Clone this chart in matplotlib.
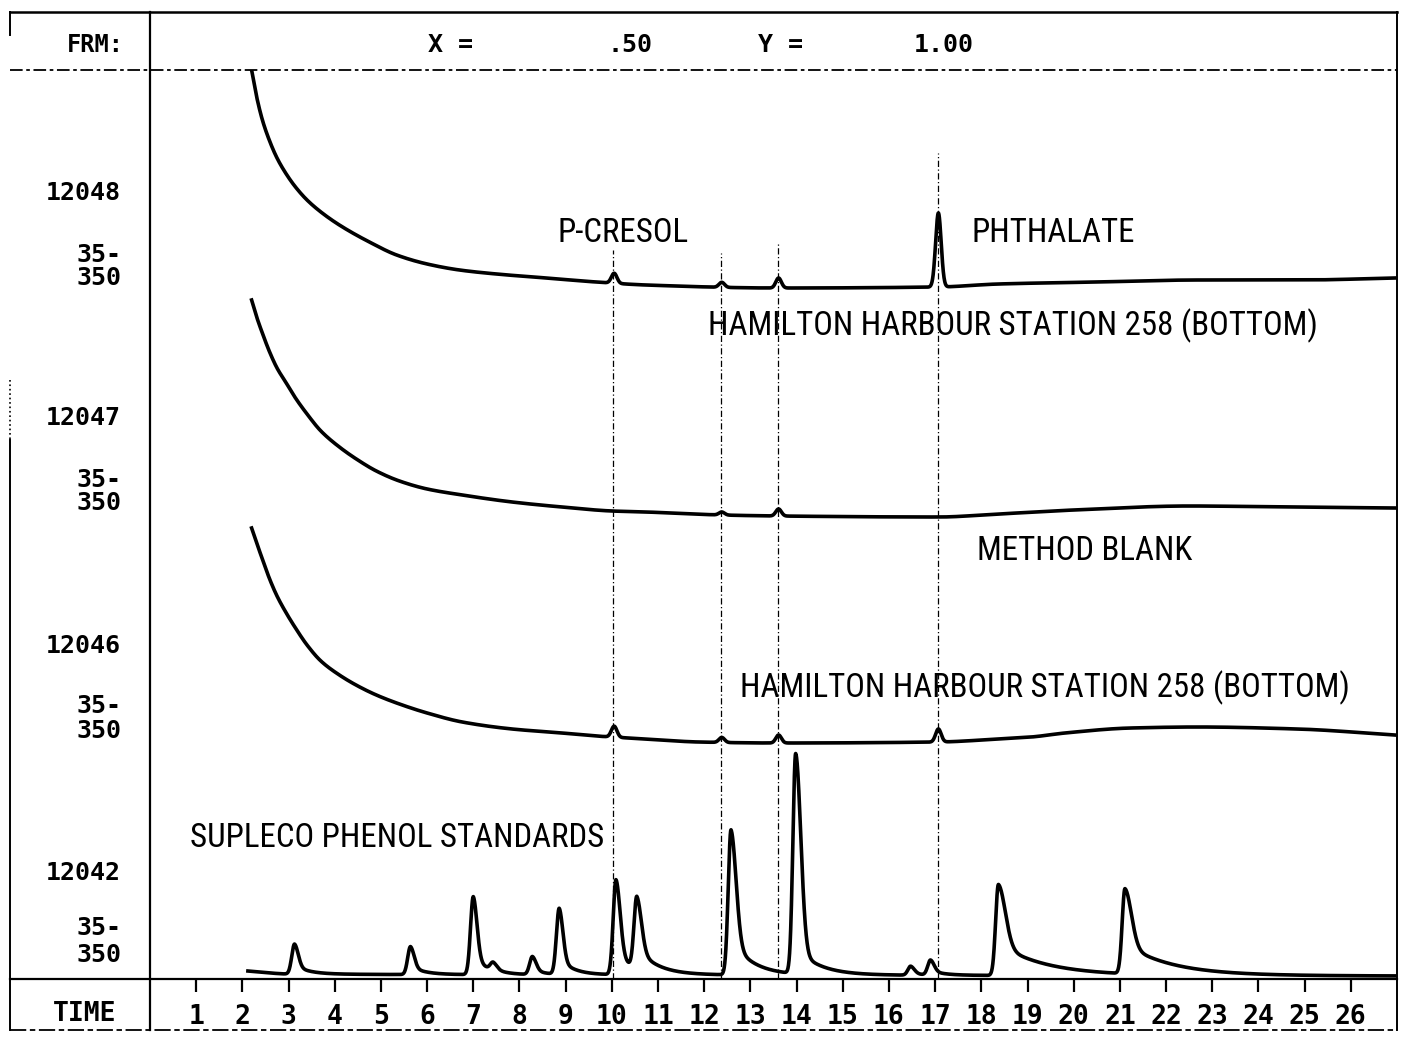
"""GC/MS total-ion chromatograms, Hamilton Harbour station 258."""

import matplotlib
matplotlib.use("Agg")
import matplotlib.pyplot as plt
from matplotlib import font_manager
import numpy as np

# retention time ticks (minutes)
time_ticks = list(range(1, 27))

# run labels down the left column
run_ids = ["12048", "12047", "12046", "12042"]
mass_range = ["35-", "350"]

# baselines: time (min) and level (chart units)
base1_t = [2.20, 2.31, 2.44, 2.59, 2.75, 2.95, 3.15, 3.40, 3.70, 4.10, 4.75, 5.34, 6.0, 6.7,
           7.5, 8.58, 9.66, 10.74, 13.6, 17.07, 18.37, 20.5, 22.7, 24.9, 26.95]
base1_y = [909, 882, 858, 838, 821, 805, 792, 779, 767, 754, 737, 724, 715, 709,
           705, 701, 697, 694, 691, 692, 695, 697, 699, 699, 701]

base2_t = [2.20, 2.31, 2.44, 2.59, 2.75, 2.95, 3.15, 3.40, 3.70, 4.10, 4.5, 4.9, 5.4, 6.0,
           6.76, 7.84, 8.92, 10.0, 10.74, 12.38, 13.61, 17.07, 18.37, 20.0, 22.5, 24.6, 26.95]
base2_y = [679, 662, 645, 627, 611, 596, 581, 565, 548, 532, 519, 508, 498, 490,
           484, 477, 472, 468, 467, 464, 463, 462, 465, 469, 473, 472, 471]

base3_t = [2.20, 2.31, 2.44, 2.59, 2.75, 2.95, 3.15, 3.40, 3.70, 4.10, 4.5, 4.9, 5.4, 6.0,
           6.76, 7.84, 8.92, 9.66, 10.74, 11.88, 13.61, 17.07, 18.37, 19.08, 19.81, 21.24,
           22.69, 24.85, 26.95]
base3_y = [451, 436, 419, 400, 383, 366, 351, 334, 318, 304, 293, 284, 275, 266,
           257, 250, 246, 243, 240, 237, 236, 237, 240, 242, 246, 251,
           252, 250, 244]

base4_t = [2.12, 2.6, 3.0, 12.0, 26.95]
base4_y = [8, 6, 5, 4, 3]

# peaks: retention time and height above baseline
peak1_t = [10.05, 12.38, 13.61, 17.07]
peak1_h = [10, 5, 10, 74]
peak2_t = [12.38, 13.61]
peak2_h = [3, 7]
peak3_t = [10.05, 12.38, 13.61, 17.07]
peak3_h = [11, 5, 8, 13]

# phenol standards: time, height, top width, tail fraction, tail length
peak4_t = [3.13, 5.64, 7.00, 7.43, 8.28, 8.86, 10.09, 10.54, 12.58, 13.98, 16.47, 16.90, 18.37, 21.11]
peak4_h = [30, 28, 78, 8, 18, 66, 95, 72, 145, 220, 9, 15, 91, 85]
peak4_w = [0.08, 0.08, 0.08, 0.08, 0.08, 0.08, 0.09, 0.10, 0.11, 0.11, 0.08, 0.08, 0.15, 0.14]
peak4_f = [0.3, 0.3, 0.25, 0.3, 0.3, 0.25, 0.25, 0.3, 0.25, 0.12, 0.3, 0.3, 0.35, 0.35]
peak4_tail = [0.3, 0.3, 0.3, 0.2, 0.25, 0.3, 0.35, 0.45, 0.45, 0.5, 0.2, 0.3, 1.0, 1.0]

# dotted marker lines linking the compounds across runs
marker_t = [10.03, 12.36, 13.59, 17.07]
marker_top = [729, 726, 736, 826]


def peak(t, t0, h, w=0.06, frac=0.0, tail=0.1, rise=0.06):
    up = np.exp(-0.5 * ((t - t0) / rise) ** 2)
    dt = np.clip(t - t0, 0, None)
    down = (1 - frac) * np.exp(-0.5 * (dt / w) ** 2) + frac * np.exp(-dt / tail)
    return h * np.where(t < t0, up, down)


def pchip(x, y, xq):
    # monotone cubic through the read-off baseline points
    x, y = np.asarray(x, float), np.asarray(y, float)
    h = np.diff(x)
    d = np.diff(y) / h
    m = np.zeros_like(y)
    m[0], m[-1] = d[0], d[-1]
    for k in range(1, len(x) - 1):
        if d[k - 1] * d[k] > 0:
            w1 = 2 * h[k] + h[k - 1]
            w2 = h[k] + 2 * h[k - 1]
            m[k] = (w1 + w2) / (w1 / d[k - 1] + w2 / d[k])
    i = np.clip(np.searchsorted(x, xq) - 1, 0, len(h) - 1)
    s = (xq - x[i]) / h[i]
    return ((2 * s**3 - 3 * s**2 + 1) * y[i] + (s**3 - 2 * s**2 + s) * h[i] * m[i]
            + (-2 * s**3 + 3 * s**2) * y[i + 1] + (s**3 - s**2) * h[i] * m[i + 1])


def trace(bt, by, pt, ph, pw=None, pf=None, ptail=None):
    t = np.arange(bt[0], bt[-1], 0.004)
    y = pchip(bt, by, t)
    for i, (t0, h) in enumerate(zip(pt, ph)):
        if pw is None:
            y += peak(t, t0, h)
        else:
            y += peak(t, t0, h, pw[i], pf[i], ptail[i])
    return t, y


def narrow_family():
    names = {f.name for f in font_manager.fontManager.ttflist}
    for cand in ["Liberation Sans Narrow", "Roboto Condensed", "Open Sans Condensed",
                 "DejaVu Sans Condensed", "Noto Sans Condensed", "Roboto", "Inter"]:
        if cand in names:
            return cand
    return "DejaVu Sans"


W, H = 1411, 1039
MONO = dict(family="DejaVu Sans Mono", weight="bold")
NARROW = [narrow_family(), "DejaVu Sans"]

fig = plt.figure(figsize=(W / 100, H / 100), dpi=100)

# frame, header and label column, in pixel units
bg = fig.add_axes([0, 0, 1, 1])
bg.set_xlim(0, W)
bg.set_ylim(H, 0)
bg.axis("off")
bg.plot([10, 1397], [12, 12], color="k", lw=1.8)
bg.plot([10, 1397], [70, 70], color="k", lw=1.3, ls=(0, (7, 2, 2, 2)))
bg.plot([10, 1397], [979, 979], color="k", lw=1.6)
bg.plot([10, 1397], [1030, 1030], color="k", lw=1.3, ls=(0, (9, 2, 3, 2)))
bg.plot([150, 150], [12, 1030], color="k", lw=1.6)
bg.plot([1397, 1397], [12, 1030], color="k", lw=1.4)
bg.plot([10, 10], [12, 35], color="k", lw=1.4)
bg.plot([10, 10], [380, 440], color="k", lw=1.2, ls=":")
bg.plot([10, 10], [440, 1030], color="k", lw=1.4)

bg.text(95, 45, "FRM:", ha="center", va="center", fontsize=17, **MONO)
bg.text(450, 45, "X =", ha="center", va="center", fontsize=18, **MONO)
bg.text(630, 45, ".50", ha="center", va="center", fontsize=18, **MONO)
bg.text(780, 45, "Y =", ha="center", va="center", fontsize=18, **MONO)
bg.text(944, 45, "1.00", ha="center", va="center", fontsize=18, **MONO)
bg.text(85, 1014, "TIME", ha="center", va="center", fontsize=19, **MONO)

label_y = [(193, 255, 278), (418, 480, 503), (646, 706, 731), (873, 928, 955)]
for rid, (y0, y1, y2) in zip(run_ids, label_y):
    bg.text(121, y0, rid, ha="right", va="center", fontsize=18, **MONO)
    bg.text(121, y1, mass_range[0], ha="right", va="center", fontsize=18, **MONO)
    bg.text(121, y2, mass_range[1], ha="right", va="center", fontsize=18, **MONO)

# chromatograms
ax = fig.add_axes([150 / W, (H - 979) / H, (1397 - 150) / W, (979 - 70) / H])
ax.set_xlim(0, 27)
ax.set_ylim(0, 909)
ax.patch.set_visible(False)
for s in ax.spines.values():
    s.set_visible(False)

for bt, by, pt, ph in [(base1_t, base1_y, peak1_t, peak1_h),
                       (base2_t, base2_y, peak2_t, peak2_h),
                       (base3_t, base3_y, peak3_t, peak3_h)]:
    t, y = trace(bt, by, pt, ph)
    ax.plot(t, y, color="k", lw=2.6, solid_joinstyle="round")

t, y = trace(base4_t, base4_y, peak4_t, peak4_h, peak4_w, peak4_f, peak4_tail)
ax.plot(t, y, color="k", lw=2.6, solid_joinstyle="round")

ax.vlines(marker_t, 0, marker_top, colors="k", lw=0.9, linestyles=(0, (5, 2, 1, 2)))

ax.set_yticks([])
ax.set_xticks(time_ticks)
ax.set_xticklabels([str(v) for v in time_ticks])
ax.tick_params(axis="x", direction="out", length=9, width=1.6, pad=9, labelsize=19)
for lab in ax.get_xticklabels():
    lab.set_family("DejaVu Sans Mono")
    lab.set_weight("bold")

notes = [
    (557, 233, "P-CRESOL"),
    (972, 233, "PHTHALATE"),
    (708, 326, "HAMILTON HARBOUR STATION 258 (BOTTOM)"),
    (977, 551, "METHOD BLANK"),
    (740, 688, "HAMILTON HARBOUR STATION 258 (BOTTOM)"),
    (190, 838, "SUPLECO PHENOL STANDARDS"),
]
note_texts = [bg.text(x, y, s, va="center", fontsize=24, family=NARROW) for x, y, s in notes]

# size the annotation font so the long station label spans its width in the original
fig.canvas.draw()
r = fig.canvas.get_renderer()
width = note_texts[2].get_window_extent(r).width
size = 24 * 610 / width
for txt in note_texts:
    txt.set_fontsize(size)

fig.savefig("out.png", dpi=100)
plt.close(fig)
